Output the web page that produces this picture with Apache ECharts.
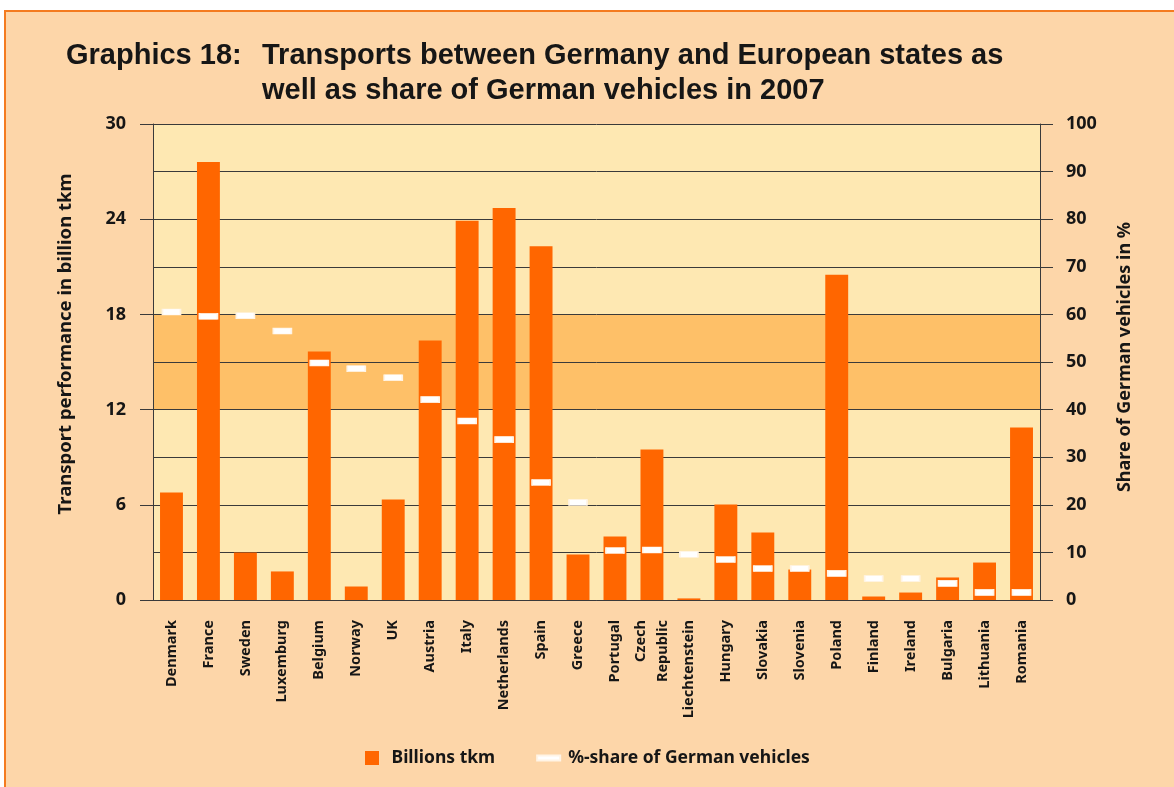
<!DOCTYPE html>
<html>
<head>
<meta charset="utf-8">
<script src="https://cdn.jsdelivr.net/npm/echarts@6/dist/echarts.min.js"></script>
<style>
  html, body { margin: 0; padding: 0; background: #ffffff; }
  .frame {
    position: absolute; left: 4px; top: 10px; width: 1190px; height: 800px;
    background: #fdd6a9; border-left: 2px solid #f47b20; border-top: 2px solid #f47b20;
  }
  #chart { position: absolute; left: 0; top: 0; width: 1174px; height: 787px; }
</style>
</head>
<body>
<div class="frame"></div>
<div id="chart"></div>
<script>
const countries = ['Denmark', 'France', 'Sweden', 'Luxemburg', 'Belgium', 'Norway', 'UK', 'Austria',
  'Italy', 'Netherlands', 'Spain', 'Greece', 'Portugal', 'Czech\nRepublic', 'Liechtenstein', 'Hungary',
  'Slovakia', 'Slovenia', 'Poland', 'Finland', 'Ireland', 'Bulgaria', 'Lithuania', 'Romania'];

const billionsTkm = [6.77, 27.6, 3.0, 1.8, 15.66, 0.85, 6.33, 16.35,
  23.9, 24.7, 22.3, 2.87, 4.0, 9.48, 0.1, 6.02,
  4.25, 1.92, 20.5, 0.22, 0.47, 1.42, 2.36, 10.87];

const germanShare = [60.5, 59.6, 59.7, 56.5, 49.8, 48.6, 46.7, 42.1,
  37.6, 33.7, 24.7, 20.5, 10.4, 10.5, 9.6, 8.5,
  6.6, 6.6, 5.6, 4.5, 4.5, 3.5, 1.6, 1.6];

// highlighted band on the left axis (billion tkm)
const bandRange = [12, 18];

const leftTicks = { min: 0, max: 30, interval: 6 };
const rightTicks = { min: 0, max: 100, interval: 10 };

const ink = '#161616';
const uiFont = '"Noto Sans", "Open Sans", sans-serif';
const titleFont = '"Liberation Sans", Arial, sans-serif';

const chart = echarts.init(document.getElementById('chart'));

chart.setOption({
  backgroundColor: 'transparent',
  textStyle: { fontFamily: uiFont },
  title: [
    {
      text: 'Graphics 18:',
      left: 61, top: 33,
      textStyle: { fontFamily: titleFont, fontSize: 29, fontWeight: 'bold', color: ink, lineHeight: 35 }
    },
    {
      text: 'Transports between Germany and European states as\nwell as share of German vehicles in 2007',
      left: 257, top: 33,
      textStyle: { fontFamily: titleFont, fontSize: 29, fontWeight: 'bold', color: ink, lineHeight: 35 }
    }
  ],
  legend: {
    left: 360, top: 744,
    itemWidth: 23, itemHeight: 14, itemGap: 41,
    textStyle: { fontFamily: uiFont, fontSize: 17.5, fontWeight: 'bold', color: ink, padding: [0, 0, 0, 3] },
    data: [
      { name: 'Billions tkm', icon: 'path://M0,0h10v10h-10z' },
      { name: '%-share of German vehicles', icon: 'path://M0,0h23v5h-23z', itemStyle: { color: '#ffffff', opacity: 1 } }
    ]
  },
  grid: {
    left: 153, right: 134, top: 124, bottom: 187,
    show: true, backgroundColor: '#fee8b2', borderWidth: 0
  },
  xAxis: {
    type: 'category',
    data: countries,
    z: 1.5,
    axisLine: { lineStyle: { color: '#3a3a3a', width: 1 } },
    axisTick: { alignWithLabel: true, length: 13, lineStyle: { color: '#3a3a3a' } },
    axisLabel: {
      interval: 0, rotate: 90, margin: 20,
      fontFamily: uiFont, fontSize: 14.5, fontWeight: 'bold', color: ink, lineHeight: 22
    }
  },
  yAxis: [
    {
      type: 'value',
      ...leftTicks,
      z: 1.5,
      name: 'Transport performance in billion tkm',
      nameLocation: 'middle', nameGap: 78, nameRotate: 90,
      nameTextStyle: { fontFamily: uiFont, fontSize: 18.5, fontWeight: 'bold', color: ink, padding: [0, 0, 0, 36] },
      axisLine: { show: true, lineStyle: { color: '#3a3a3a' } },
      axisTick: { show: true, length: 13, lineStyle: { color: '#3a3a3a' } },
      axisLabel: { margin: 27, fontFamily: uiFont, fontSize: 18, fontWeight: 'bold', color: ink },
      splitLine: { show: false }
    },
    {
      type: 'value',
      ...rightTicks,
      position: 'right',
      z: 1.5,
      name: 'Share of German vehicles in %',
      nameLocation: 'middle', nameGap: 76, nameRotate: 90,
      nameTextStyle: { fontFamily: uiFont, fontSize: 18, fontWeight: 'bold', color: ink, padding: [0, 0, 0, 10] },
      axisLine: { show: true, lineStyle: { color: '#3a3a3a' } },
      axisTick: { show: true, length: 13, lineStyle: { color: '#3a3a3a' } },
      axisLabel: { margin: 26, fontFamily: uiFont, fontSize: 18, fontWeight: 'bold', color: ink },
      splitLine: { show: true, lineStyle: { color: '#3a3a3a', width: 1 } }
    }
  ],
  series: [
    {
      name: 'Billions tkm',
      type: 'bar',
      yAxisIndex: 0,
      data: billionsTkm,
      barWidth: '62%',
      itemStyle: { color: '#ff6600' },
      z: 2,
      markArea: {
        silent: true,
        z: 1,
        itemStyle: { color: '#fec068' },
        data: [[{ yAxis: bandRange[0] }, { yAxis: bandRange[1] }]]
      }
    },
    {
      name: '%-share of German vehicles',
      type: 'scatter',
      yAxisIndex: 1,
      data: germanShare,
      symbol: 'rect',
      symbolSize: [18, 6],
      itemStyle: { color: '#ffffff', opacity: 1, borderColor: '#fff4e6', borderWidth: 1 },
      z: 3
    }
  ]
});
</script>
</body>
</html>
